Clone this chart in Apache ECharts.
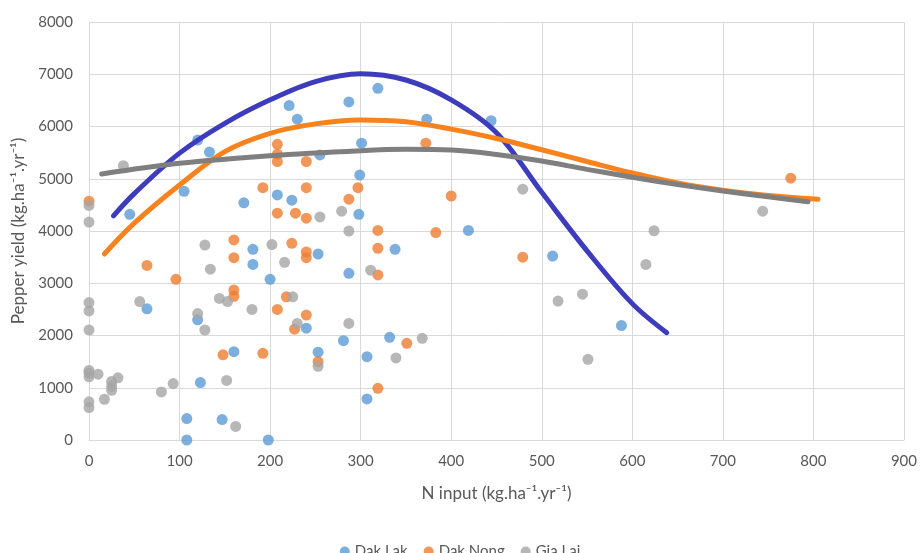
<!DOCTYPE html>
<html>
<head>
<meta charset="utf-8">
<script src="https://cdn.jsdelivr.net/npm/echarts@6/dist/echarts.min.js"></script>
<style>
  html, body { margin: 0; padding: 0; background: #ffffff; }
  #chart { width: 920px; height: 553px; }
</style>
</head>
<body>
<div id="chart"></div>
<script>
// Observed yield vs. N input, one [N, yield] pair per farm
const dakLak = [
  [45, 4320], [120, 5740], [133, 5510], [105, 4760], [221, 6400], [230, 6140],
  [171, 4540], [208, 4690], [224, 4590], [181, 3650], [181, 3360], [253, 3560],
  [200, 3075], [64, 2510], [120, 2300], [240, 2140], [253, 1680], [160, 1690],
  [123, 1100], [108, 410], [108, 0], [147, 390], [198, 0], [319, 6730],
  [287, 6470], [373, 6140], [444, 6110], [301, 5680], [255, 5455], [299, 5070],
  [298, 4320], [419, 4010], [338, 3650], [512, 3520], [287, 3190], [281, 1900],
  [332, 1965], [307, 1595], [307, 785], [588, 2190]
];
const dakNong = [
  [0, 4570], [208, 5660], [208, 5470], [208, 5330], [240, 5330], [192, 4830],
  [240, 4830], [208, 4340], [228, 4340], [240, 4245], [160, 3830], [160, 3490],
  [224, 3765], [240, 3600], [240, 3490], [64, 3340], [96, 3075], [160, 2870],
  [160, 2750], [208, 2500], [218, 2740], [227, 2120], [240, 2390], [253, 1500],
  [148, 1630], [192, 1660], [372, 5680], [297, 4830], [287, 4610], [400, 4670],
  [319, 4010], [383, 3970], [319, 3670], [479, 3500], [319, 3160], [351, 1850],
  [319, 990], [775, 5010]
];
const giaLai = [
  [38, 5250], [0, 4490], [0, 4170], [128, 3730], [202, 3740], [216, 3400],
  [134, 3270], [56, 2650], [0, 2630], [0, 2470], [0, 2105], [120, 2420],
  [128, 2105], [144, 2710], [153, 2650], [180, 2500], [225, 2740], [230, 2230],
  [253, 1410], [0, 1330], [0, 1280], [0, 1210], [10, 1260], [25, 1120],
  [25, 1030], [25, 950], [32, 1190], [17, 780], [0, 730], [0, 620],
  [80, 920], [93, 1080], [152, 1140], [162, 260], [255, 4270], [279, 4380],
  [287, 4000], [311, 3250], [479, 4800], [518, 2660], [545, 2790], [287, 2230],
  [368, 1945], [339, 1570], [551, 1545], [744, 4380], [624, 4005], [615, 3360]
];

// Polynomial trend curves, sampled along N input
const dakLakTrend = [
  [27, 4290], [50, 4715], [100, 5490], [150, 6060], [200, 6510], [250, 6860],
  [300, 7010], [350, 6890], [400, 6510], [450, 5880], [500, 4740], [550, 3620],
  [600, 2610], [638, 2054]
];
const dakNongTrend = [
  [17, 3560], [50, 4150], [100, 4880], [150, 5520], [200, 5870], [250, 6050],
  [300, 6124], [350, 6090], [400, 5950], [450, 5770], [500, 5555], [550, 5330],
  [600, 5110], [650, 4920], [700, 4780], [750, 4680], [805, 4606]
];
const giaLaiTrend = [
  [14, 5090], [100, 5295], [200, 5441], [300, 5537], [350, 5563], [400, 5550],
  [450, 5465], [500, 5340], [550, 5180], [600, 5030], [650, 4890], [700, 4765],
  [750, 4655], [794, 4561]
];

const xTicks = { min: 0, max: 900, step: 100 };
const yTicks = { min: 0, max: 8000, step: 1000 };

const textColor = '#595959';
const fontFamily = 'Lato, "Open Sans", sans-serif';

const chart = echarts.init(document.getElementById('chart'), null, { renderer: 'canvas' });

function dots(name, data, color) {
  return {
    name: name, type: 'scatter', data: data, symbol: 'circle', symbolSize: 11,
    itemStyle: { color: color }, z: 2
  };
}
function trend(name, data, color) {
  return {
    name: name, type: 'line', data: data, smooth: 0.35, showSymbol: false,
    lineStyle: { color: color, width: 5, cap: 'round' }, silent: true, z: 3
  };
}

chart.setOption({
  animation: false,
  backgroundColor: '#ffffff',
  textStyle: { fontFamily: fontFamily, color: textColor },
  grid: { left: 89, right: 15, top: 22, bottom: 113, containLabel: false },
  legend: {
    data: ['Dak Lak', 'Dak Nong', 'Gia Lai'],
    left: 'center', top: 539, icon: 'circle', itemWidth: 10, itemHeight: 10, itemGap: 16,
    textStyle: { fontFamily: fontFamily, fontSize: 15, color: textColor }
  },
  xAxis: {
    type: 'value', min: xTicks.min, max: xTicks.max, interval: xTicks.step,
    name: 'N input (kg.ha\u207B\u00B9.yr\u207B\u00B9)', nameLocation: 'middle', nameGap: 45,
    nameTextStyle: { fontFamily: fontFamily, fontSize: 17, color: textColor },
    axisLine: { show: true, lineStyle: { color: '#d9d9d9' } },
    axisTick: { show: false },
    axisLabel: { fontFamily: fontFamily, fontSize: 15, color: textColor, margin: 14 },
    splitLine: { show: true, lineStyle: { color: '#d9d9d9', width: 1 } }
  },
  yAxis: {
    type: 'value', min: yTicks.min, max: yTicks.max, interval: yTicks.step,
    name: 'Pepper yield (kg.ha\u207B\u00B9.yr\u207B\u00B9)', nameLocation: 'middle', nameGap: 58,
    nameTextStyle: { fontFamily: fontFamily, fontSize: 17, color: textColor },
    axisLine: { show: false },
    axisTick: { show: false },
    axisLabel: {
      fontFamily: fontFamily, fontSize: 15, color: textColor, margin: 16,
      formatter: function (v) { return String(v); }
    },
    splitLine: { show: true, lineStyle: { color: '#d9d9d9', width: 1 } }
  },
  series: [
    dots('Dak Lak', dakLak, '#5b9bd5'),
    dots('Dak Nong', dakNong, '#ed7d31'),
    dots('Gia Lai', giaLai, '#a5a5a5'),
    trend('Dak Lak trend', dakLakTrend, '#3c3cbd'),
    trend('Dak Nong trend', dakNongTrend, '#f7821e'),
    trend('Gia Lai trend', giaLaiTrend, '#7f7f7f')
  ]
});
</script>
</body>
</html>
